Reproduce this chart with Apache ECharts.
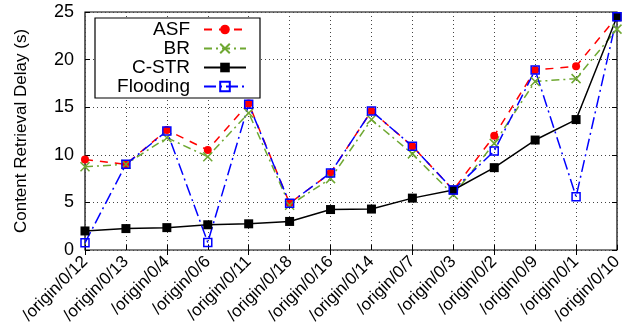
<!DOCTYPE html>
<html lang="en">
<head>
<meta charset="UTF-8">
<title>Content Retrieval Delay</title>
<script src="https://cdn.jsdelivr.net/npm/echarts@6/dist/echarts.min.js"></script>
<style>
  html, body { margin: 0; padding: 0; background: #fff; }
  #main { width: 629px; height: 332px; }
</style>
</head>
<body>
<div id="main"></div>
<script>
    const categories = ['/origin/0/12', '/origin/0/13', '/origin/0/4', '/origin/0/6', '/origin/0/11',
        '/origin/0/18', '/origin/0/16', '/origin/0/14', '/origin/0/7', '/origin/0/3',
        '/origin/0/2', '/origin/0/9', '/origin/0/1', '/origin/0/10'];
    const asf = [9.5, 9.0, 12.6, 10.5, 15.4, 4.9, 8.1, 14.6, 10.9, 6.3, 12.0, 18.9, 19.3, 24.5];
    const br = [8.75, 9.0, 11.8, 9.8, 14.4, 4.7, 7.5, 13.7, 10.1, 5.8, 11.2, 17.7, 18.0, 23.2];
    const cstr = [2.0, 2.25, 2.35, 2.65, 2.75, 3.0, 4.25, 4.3, 5.45, 6.3, 8.65, 11.55, 13.7, 24.5];
    const flooding = [0.75, 9.0, 12.5, 0.8, 15.3, 4.9, 8.1, 14.6, 10.9, 6.3, 10.4, 18.9, 5.6, 24.5];

    const FONT = 'Liberation Sans';
    let myChart = echarts.init(document.getElementById('main'));

    let option = {
        backgroundColor: '#fff',
        animation: false,
        textStyle: { fontFamily: FONT },
        grid: {
            left: 85, right: 12, top: 12, bottom: 82,
            show: true, borderColor: '#000', borderWidth: 1.2
        },
        legend: {
            orient: 'vertical',
            left: 95, top: 18,
            align: 'right',
            padding: [2, 13, 2, 7],
            itemGap: 0,
            itemWidth: 42,
            itemHeight: 12,
            backgroundColor: '#fff',
            borderColor: '#000',
            borderWidth: 1.2,
            borderRadius: 0,
            data: ['ASF', 'BR', 'C-STR', 'Flooding'],
            formatter: '{t|{name}}',
            textStyle: {
                color: '#000',
                fontSize: 19,
                rich: {
                    t: {
                        width: 88, align: 'right', fontSize: 19, lineHeight: 20,
                        padding: [0, 9, 0, 0], fontFamily: FONT
                    }
                }
            }
        },
        xAxis: [{
            type: 'category',
            data: categories,
            boundaryGap: false,
            axisLine: { show: false },
            axisTick: { inside: true, length: 5, lineStyle: { color: '#000' } },
            axisLabel: { rotate: 45, fontSize: 17, color: '#000', margin: 9, interval: 0 },
            splitLine: { show: true, lineStyle: { color: '#444', type: [1, 3], width: 1 } }
        }, {
            type: 'category',
            data: categories,
            position: 'top',
            boundaryGap: false,
            axisLine: { show: false },
            axisTick: { inside: true, length: 5, lineStyle: { color: '#000' } },
            axisLabel: { show: false }
        }],
        yAxis: [{
            type: 'value',
            min: 0, max: 25, interval: 5,
            name: 'Content Retrieval Delay (s)',
            nameLocation: 'middle',
            nameGap: 55,
            nameTextStyle: { fontSize: 17, color: '#000' },
            axisLine: { show: false },
            axisTick: { show: true, inside: true, length: 5, lineStyle: { color: '#000' } },
            axisLabel: { fontSize: 18, color: '#000', margin: 11 },
            splitLine: { show: true, lineStyle: { color: '#444', type: [1, 3], width: 1 } }
        }, {
            type: 'value',
            min: 0, max: 25, interval: 5,
            position: 'right',
            axisLine: { show: false },
            axisTick: { show: true, inside: true, length: 5, lineStyle: { color: '#000' } },
            axisLabel: { show: false },
            splitLine: { show: false }
        }],
        series: [{
            name: 'ASF',
            type: 'line',
            data: asf,
            symbol: 'circle',
            symbolSize: 8,
            itemStyle: { color: '#ff0000' },
            lineStyle: { color: '#ff0000', width: 1.5, type: [8, 7] }
        }, {
            name: 'BR',
            type: 'line',
            data: br,
            symbol: 'path://M0,0 L10,10 M10,0 L0,10',
            symbolSize: 9,
            itemStyle: { color: 'transparent', borderColor: '#6fa832', borderWidth: 1.5 },
            lineStyle: { color: '#6fa832', width: 1.5, type: [8, 4, 2, 4] }
        }, {
            name: 'C-STR',
            type: 'line',
            data: cstr,
            symbol: 'rect',
            symbolSize: 9,
            itemStyle: { color: '#000' },
            lineStyle: { color: '#000', width: 1.5 }
        }, {
            name: 'Flooding',
            type: 'line',
            data: flooding,
            symbol: 'rect',
            symbolSize: 8,
            itemStyle: { color: 'rgba(255,255,255,0)', borderColor: '#0000ff', borderWidth: 1.5 },
            lineStyle: { color: '#0000ff', width: 1.5, type: [12, 4, 2, 4] }
        }]
    };
    myChart.setOption(option);
</script>
</body>
</html>
